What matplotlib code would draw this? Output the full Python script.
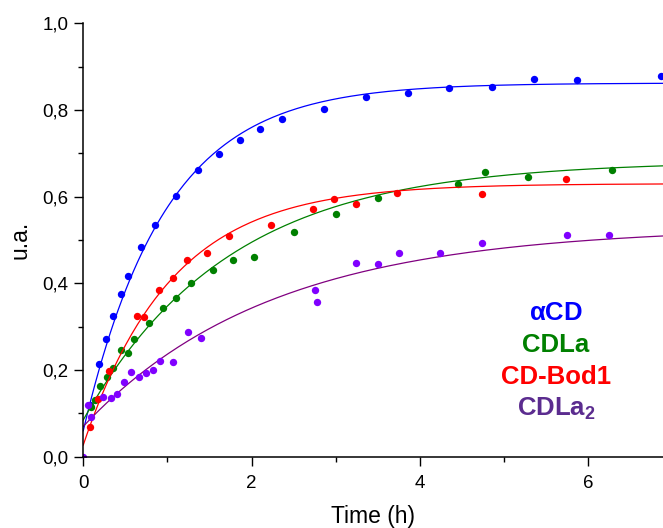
import numpy as np
import matplotlib
matplotlib.use("Agg")
import matplotlib.pyplot as plt
from matplotlib.ticker import MultipleLocator, FuncFormatter

plt.rcParams["font.family"] = ["Liberation Sans", "DejaVu Sans"]
plt.rcParams["mathtext.fontset"] = "custom"
plt.rcParams["mathtext.rm"] = "Liberation Sans"
plt.rcParams["mathtext.bf"] = "Liberation Sans:bold"

# measured points (time in h, u.a.)
t_acd = [0.08, 0.19, 0.27, 0.356, 0.444, 0.531, 0.682, 0.852, 1.105, 1.359, 1.615,
         1.865, 2.102, 2.356, 2.855, 3.361, 3.86, 4.347, 4.854, 5.353, 5.86, 6.857]
y_acd = [0.12, 0.215, 0.271, 0.325, 0.376, 0.418, 0.484, 0.535, 0.601, 0.661, 0.698,
         0.73, 0.756, 0.779, 0.802, 0.83, 0.838, 0.851, 0.853, 0.871, 0.869, 0.878]

t_cdla = [0.088, 0.139, 0.195, 0.278, 0.349, 0.444, 0.531, 0.606, 0.777, 0.95, 1.105,
          1.276, 1.537, 1.774, 2.024, 2.502, 2.998, 3.496, 4.45, 4.767, 5.278, 6.279]
y_cdla = [0.115, 0.131, 0.163, 0.185, 0.205, 0.246, 0.24, 0.271, 0.308, 0.342, 0.367,
          0.401, 0.43, 0.454, 0.461, 0.519, 0.56, 0.596, 0.628, 0.657, 0.645, 0.662]

t_bod = [0.08, 0.18, 0.305, 0.641, 0.723, 0.897, 1.068, 1.235, 1.475, 1.73, 2.226,
         2.728, 2.981, 3.236, 3.726, 4.739, 5.736]
y_bod = [0.069, 0.132, 0.198, 0.324, 0.323, 0.385, 0.413, 0.454, 0.469, 0.51, 0.534,
         0.571, 0.594, 0.583, 0.608, 0.606, 0.641]

t_cdla2 = [0.0, 0.062, 0.097, 0.23, 0.331, 0.397, 0.489, 0.572, 0.656, 0.742, 0.825,
           0.913, 1.069, 1.238, 1.4, 2.752, 2.772, 3.235, 3.5, 3.744, 4.234, 4.741,
           5.739, 6.246]
y_cdla2 = [0.0, 0.12, 0.091, 0.138, 0.135, 0.145, 0.173, 0.195, 0.185, 0.194, 0.2,
           0.221, 0.218, 0.288, 0.275, 0.385, 0.358, 0.446, 0.445, 0.469, 0.469, 0.493,
           0.511, 0.512]

# exponential fits: start, plateau, rate
fit_acd = [0.06, 0.862, 1.03]
fit_cdla = [0.085, 0.682, 0.58]
fit_bod = [0.027, 0.63, 0.96]
fit_cdla2 = [0.07, 0.53, 0.45]

names = [r"$\mathbf{\alpha}$CD", "CDLa", "CD-Bod1", r"CDLa$_\mathbf{2}$"]
name_colors = ["#0000ff", "#008000", "#ff0000", "#5b2c8f"]

series = [
    (t_acd, y_acd, fit_acd, "#0000ff", "#0000ff"),
    (t_cdla, y_cdla, fit_cdla, "#008000", "#008000"),
    (t_bod, y_bod, fit_bod, "#ff0000", "#ff0000"),
    (t_cdla2, y_cdla2, fit_cdla2, "#8000ff", "#800080"),
]

fig = plt.figure(figsize=(6.63, 5.28), dpi=100)
ax = fig.add_axes([0.1256, 0.135, 1 - 0.1256, 0.821])
xmax = 6.885
tt = np.linspace(0, xmax, 300)
for t, y, (y0, p, k), pc, lc in series:
    ax.plot(tt, p - (p - y0) * np.exp(-k * tt), color=lc, lw=0.9)
    ax.plot(t, y, "o", color=pc, ms=5.3, mec="none")

ax.set_xlim(0, xmax)
ax.set_ylim(0, 1.0)
ax.spines["top"].set_visible(False)
ax.spines["right"].set_visible(False)
for s in ("left", "bottom"):
    ax.spines[s].set_linewidth(1.1)
ax.xaxis.set_major_locator(MultipleLocator(2))
ax.xaxis.set_minor_locator(MultipleLocator(1))
ax.yaxis.set_major_locator(MultipleLocator(0.2))
ax.yaxis.set_minor_locator(MultipleLocator(0.1))
ax.yaxis.set_major_formatter(FuncFormatter(lambda v, p: ("%.1f" % v).replace(".", ",")))
ax.tick_params(which="major", direction="out", length=6.5, width=1.0, labelsize=13.5, pad=4)
ax.tick_params(axis="x", which="major", pad=7)
ax.tick_params(which="minor", direction="out", length=3.5, width=1.0)
ax.set_xlabel("Time (h)", fontsize=16.5, labelpad=9)
ax.set_ylabel("u.a.", fontsize=16.5, labelpad=8)

# coloured labels instead of a legend box
for i, (n, c) in enumerate(zip(names, name_colors)):
    fig.text(556 / 663, 1 - (320 + 32 * i) / 528, n, color=c, fontsize=18.5,
             fontweight="bold", ha="center", va="baseline")

fig.savefig("out.png", dpi=100)
